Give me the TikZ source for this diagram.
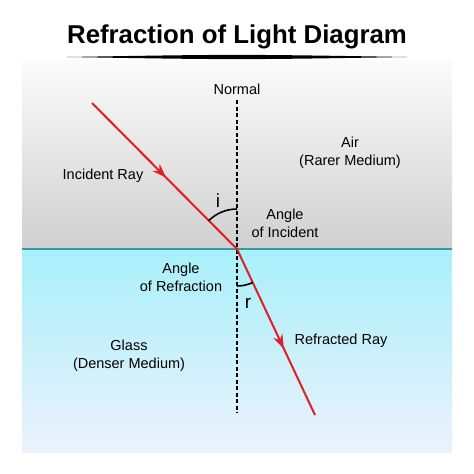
\documentclass[tikz,border=0pt]{standalone}
\usepackage{fontspec}
\setmainfont{Liberation Sans}
\usetikzlibrary{arrows.meta,decorations.markings}
\definecolor{rayred}{HTML}{E01E26}
\definecolor{airtop}{HTML}{FBFBFB}
\definecolor{airbot}{HTML}{D0D0D0}
\definecolor{glasstop}{HTML}{A8F0FA}
\definecolor{glassbot}{HTML}{ECF1FB}
\definecolor{edgeteal}{HTML}{3A9A9C}
\begin{document}
\begin{tikzpicture}[x=1pt,y=-1pt,
  lbl/.style={font=\fontsize{14.5}{18}\selectfont, align=center, inner sep=0pt},
  ray/.style={color=rayred, line width=2pt},
  midarrow/.style={postaction={decorate}, decoration={markings,
    mark=at position #1 with {\arrow{Stealth[length=14pt,width=10pt]}}}}]
\useasboundingbox (0,0) rectangle (474,474);
\shade[top color=airtop, bottom color=airbot] (22,60) rectangle (452,249);
\shade[top color=glasstop, bottom color=glassbot] (22,249) rectangle (452,452);
\node[font=\bfseries\fontsize{25.8}{30}\selectfont, anchor=base] (ttl) at (237,43) {Refraction of Light Diagram};
\fill (67,57) .. controls (237,54.2) .. (407,57) .. controls (237,59.8) .. (67,57) -- cycle;
\draw[edgeteal, line width=2pt] (22,249) -- (452,249);
\coordinate (ntop) at (237,100);
\coordinate (nbot) at (237,413);
\coordinate (hit) at (237,249);
\coordinate (src) at (92,103);
\coordinate (dst) at (315,415);
\draw[line width=1.8pt, dash pattern=on 4pt off 2.5pt] (ntop) -- (nbot);
\draw[ray, midarrow=0.51] (src) -- (hit);
\draw[ray, midarrow=0.6] (hit) -- (dst);
\draw[line width=1.6pt] (hit) ++(0,-40) arc[start angle=-90, end angle=-135, radius=40];
\draw[line width=1.6pt] (hit) ++(0,37) arc[start angle=90, end angle=65, radius=37];
\node[lbl, anchor=base] (tnormal) at (237,94) {Normal};
\node[lbl, anchor=base] (tinc) at (103,179) {Incident Ray};
\node[lbl] (tair) at (350,153) {Air\\(Rarer Medium)};
\node[lbl] (tangi) at (285,223) {Angle\\of Incident};
\node[lbl] (tangr) at (181,277) {Angle\\of Refraction};
\node[lbl] (tglass) at (129,356) {Glass\\(Denser Medium)};
\node[lbl, anchor=base] (tref) at (341,344) {Refracted Ray};
\node[font=\fontsize{19}{22}\selectfont, anchor=base] (ti) at (218,207) {i};
\node[font=\fontsize{19}{22}\selectfont, anchor=base] (tr) at (248,308) {r};
\end{tikzpicture}
\end{document}
